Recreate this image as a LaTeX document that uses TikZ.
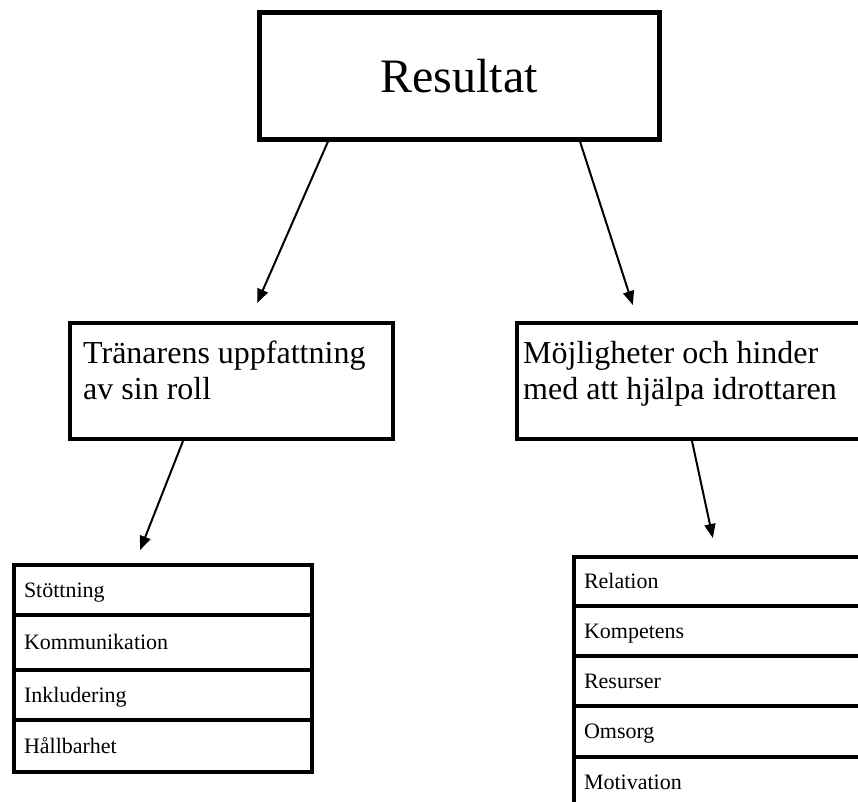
\documentclass[tikz,border=0pt]{standalone}
\usepackage{fontspec}
\setmainfont{Liberation Serif}
\usetikzlibrary{arrows.meta,calc}
\begin{document}
\begin{tikzpicture}[x=1pt,y=-1pt,
  box/.style={draw,line width=4pt,inner sep=0pt,rectangle},
  boxtext/.style={inner sep=0pt,align=left,font=\fontsize{32}{36}\selectfont},
  conn/.style={line width=2pt,-{Triangle[length=14pt,width=11pt]}},
  rowbox/.style={draw,line width=4pt,inner xsep=10pt,inner ysep=0pt,
    text height=19pt,text depth=5pt,align=left,anchor=north west,
    font=\fontsize{22}{26}\selectfont}]
\clip (0,0) rectangle (858,801);
% top box
\node[box,line width=4.5pt,minimum width=400pt,minimum height=127pt,anchor=north west,
  font=\fontsize{48}{55}\selectfont] (res) at (257,10) {Resultat};
% middle boxes
\node[box,minimum width=323pt,minimum height=116pt,anchor=north west] (tr) at (68,321) {};
\node[boxtext,anchor=north west] (trt) at (83,341) {Tränarens uppfattning\\av sin roll};
\node[box,minimum width=440pt,minimum height=116pt,anchor=north west] (mh) at (515,321) {};
\node[boxtext,anchor=north west] (mht) at (523,341) {Möjligheter och hinder\\med att hjälpa idrottaren};
% left list
\node[rowbox,text width=278pt,minimum height=50pt] (l1) at (12,563) {Stöttning};
\node[rowbox,text width=278pt,minimum height=55pt] (l2) at (12,613) {Kommunikation};
\node[rowbox,text width=278pt,minimum height=50pt] (l3) at (12,668) {Inkludering};
\node[rowbox,text width=278pt,minimum height=52pt] (l4) at (12,718) {Hållbarhet};
% right list
\node[rowbox,text width=380pt,minimum height=49pt] (r1) at (572,555) {Relation};
\node[rowbox,text width=380pt,minimum height=50pt] (r2) at (572,604) {Kompetens};
\node[rowbox,text width=380pt,minimum height=50pt] (r3) at (572,654) {Resurser};
\node[rowbox,text width=380pt,minimum height=51pt] (r4) at (572,704) {Omsorg};
\node[rowbox,text width=380pt,minimum height=50pt] (r5) at (572,755) {Motivation};
% connectors
\draw[conn,shorten >=19.6pt] ($(res.south west)+(71,0)$) -- ($(tr.north west)+(181.3,0)$);
\draw[conn,shorten >=16.8pt] ($(res.south west)+(323,0)$) -- ($(mh.north west)+(123,0)$);
\draw[conn,shorten >=13.9pt] ($(tr.south west)+(115,0)$) -- ($(l1.north west)+(123,0)$);
\draw[conn,shorten >=17.4pt] ($(mh.south west)+(177,0)$) -- ($(r1.north west)+(144.5,0)$);
\end{tikzpicture}
\end{document}
